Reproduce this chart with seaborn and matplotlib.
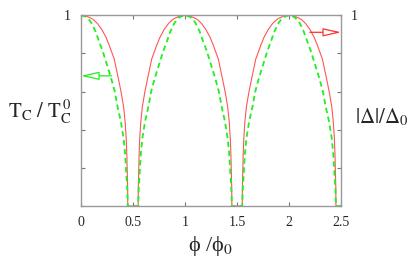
import pandas as pd
import seaborn as sns
import matplotlib.pyplot as plt

# one half-lobe: distance from the nearest integer flux
# quantum -> curve value (the pattern repeats around phi/phi0 = 0, 1, 2)
gap_dist = [0.0, 0.05, 0.10, 0.125, 0.16, 0.20, 0.24, 0.27, 0.32, 0.355, 0.385, 0.41, 0.425, 0.435, 0.441, 0.445, 0.449, 0.45]
gap_vals = [1.0, 0.995, 0.983, 0.974, 0.955, 0.925, 0.885, 0.845, 0.77, 0.68, 0.60, 0.52, 0.44, 0.354, 0.27, 0.18, 0.09, 0.0]

tc_dist = [0.0, 0.05, 0.08, 0.10, 0.14, 0.17, 0.21, 0.25, 0.29, 0.325, 0.352, 0.385, 0.41, 0.425, 0.435, 0.445, 0.45]
tc_vals = [1.0, 0.99, 0.974, 0.96, 0.915, 0.869, 0.81, 0.74, 0.67, 0.60, 0.52, 0.44, 0.354, 0.27, 0.18, 0.09, 0.0]

centers = [0, 1, 2]
x_end = 2.5
x_ticks = [0, 0.5, 1, 1.5, 2, 2.5]
x_ticklabels = ["0", "0.5", "1", "1.5", "2", "2.5"]
y_ticks = [0, 0.2, 0.4, 0.6, 0.8, 1.0]
y_ticklabels = ["", "", "", "", "", "1"]


def build_curve(dist, vals):
    xs, ys = [], []
    for c in centers:
        for d, v in zip(dist[::-1], vals[::-1]):
            if c - d >= 0 and d > 0:
                xs.append(c - d); ys.append(v)
        for d, v in zip(dist, vals):
            xs.append(c + d); ys.append(v)
    xs.append(x_end); ys.append(0.0)
    return pd.DataFrame({'phi': xs, 'val': ys})


df_gap = build_curve(gap_dist, gap_vals)
df_tc = build_curve(tc_dist, tc_vals)

sns.set_style('ticks')
plt.rcParams['font.family'] = ['Liberation Serif', 'DejaVu Serif']
plt.rcParams['mathtext.fontset'] = 'stix'

fig = plt.figure(figsize=(4.15, 2.8), dpi=100)
ax = fig.add_axes([0.195, 0.264, 0.627, 0.682])

sns.lineplot(data=df_gap, x='phi', y='val', ax=ax, color='#ff5555', lw=0.8,
             estimator=None, sort=False)
sns.lineplot(data=df_tc, x='phi', y='val', ax=ax, color='#22ee22', lw=1.3,
             ls=(0, (3, 2)), estimator=None, sort=False)

ax.set_xlim(0, 2.5)
ax.set_ylim(0, 1)
ax.set_xticks(x_ticks, x_ticklabels)
ax.set_yticks(y_ticks, y_ticklabels)
ax.set_xlabel('')
ax.set_ylabel('')
for s in ax.spines.values():
    s.set_color('#999999')
    s.set_linewidth(1.0)
ax.tick_params(direction='in', length=3, width=0.8, color='#777777',
               top=True, right=True, labelsize=10, pad=7, labelright=True)

# arrows pointing at the matching axis
ax.annotate('', xy=(0, 0.682), xytext=(0.295, 0.682),
            arrowprops=dict(arrowstyle='-|>,head_length=1.1,head_width=0.25',
                            color='#22ee22', fc='white', lw=0.9, shrinkA=0, shrinkB=0),
            annotation_clip=False)
ax.annotate('', xy=(2.5, 0.91), xytext=(2.2, 0.91),
            arrowprops=dict(arrowstyle='-|>,head_length=1.1,head_width=0.25',
                            color='#ff3030', fc='white', lw=0.9, shrinkA=0, shrinkB=0),
            annotation_clip=False)

fig.text(0.096, 0.6, r'$\mathrm{T_C\ /\ T_C^{\,0}}$', fontsize=15, ha='center', va='center')
fig.text(0.92, 0.582, r'$|\Delta|/\Delta_0$', fontsize=15, ha='center', va='center')
fig.text(0.508, 0.12, 'ϕ /ϕ$_0$', fontsize=16, ha='center', va='center')

fig.savefig('out.png', dpi=100)
